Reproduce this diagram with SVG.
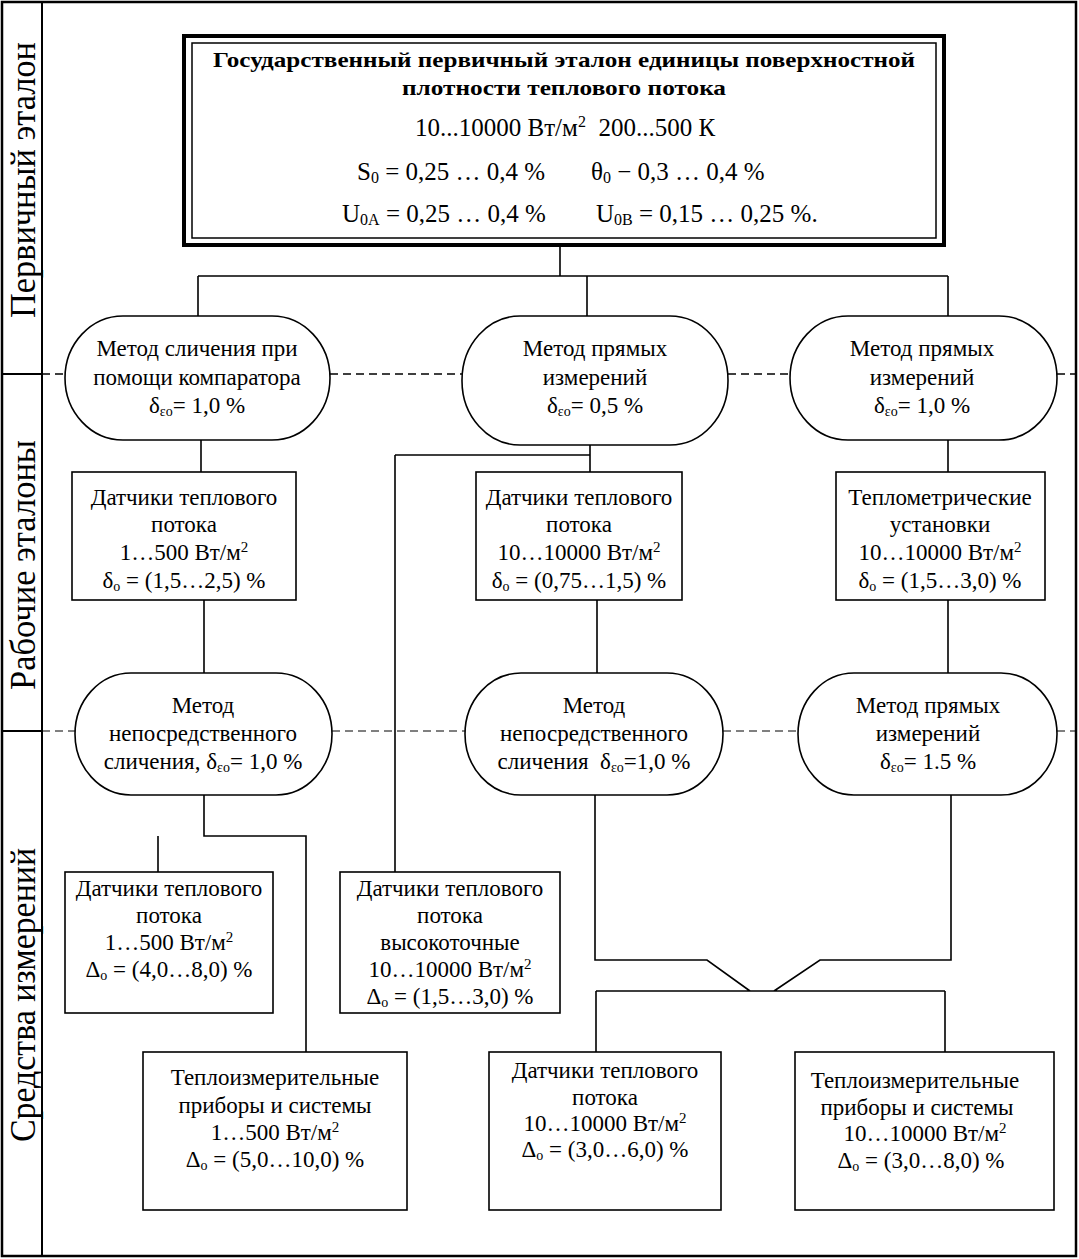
<svg xmlns="http://www.w3.org/2000/svg" width="1079" height="1259" viewBox="0 0 1079 1259">
<style>
text{font-family:"Liberation Serif","Times New Roman",serif;font-size:23px;fill:#000}
.c{text-anchor:middle}
.b{font-weight:bold;font-size:22px}
.t{font-size:25px}
.side{font-size:35px}
.box{fill:#fff;stroke:#000;stroke-width:1.6}
.ov{fill:#fff;stroke:#000;stroke-width:1.6}
.ln{fill:none;stroke:#000;stroke-width:1.6}
.d1{fill:none;stroke:#000;stroke-width:1.5;stroke-dasharray:8 5}
.d2{fill:none;stroke:#000;stroke-width:1;stroke-dasharray:8 5}
.sub{font-size:14px}
.sup{font-size:15px}
.tsub{font-size:16px}
</style>
<rect x="0" y="0" width="1079" height="1259" fill="#fff"/>
<g id="frame">
<rect x="2" y="2" width="1074" height="1254" fill="none" stroke="#000" stroke-width="2.5"/>
<line x1="42" y1="2" x2="42" y2="1256" stroke="#000" stroke-width="2"/>
<line x1="2" y1="374" x2="42" y2="374" stroke="#000" stroke-width="2"/>
<line x1="2" y1="731" x2="42" y2="731" stroke="#000" stroke-width="2"/>
<text class="side c" transform="translate(35,180) rotate(-90)" textLength="276" lengthAdjust="spacingAndGlyphs">Первичный эталон</text>
<text class="side c" transform="translate(35,565) rotate(-90)" textLength="250" lengthAdjust="spacingAndGlyphs">Рабочие эталоны</text>
<text class="side c" transform="translate(35,995) rotate(-90)" textLength="294" lengthAdjust="spacingAndGlyphs">Средства измерений</text>
</g>
<g id="levels">
<path class="d1" d="M42 374H65M330 374H462M728 374H790M1057 374H1076"/>
<path class="d2" d="M42 731H75M332 731H465M723 731H798M1057 731H1076"/>
</g>
<g id="connectors">
<path class="ln" d="M560 246V276M198 276H948M198 276V316M587 276V316M948 276V316"/>
<path class="ln" d="M201 440V472M590 445V472M395 455H590M395 455V872M948 440V472"/>
<path class="ln" d="M204 600V673M597 600V673M948 600V673"/>
<path class="ln" d="M204 795V836H306V1052M158 836V872"/>
<path class="ln" d="M595 795V960H707L750 991M951 795V960H820L774 991M596 991H945M596 991V1052M945 991V1052"/>
</g>
<g id="primary">
<rect x="184" y="36" width="760" height="209" fill="#fff" stroke="#000" stroke-width="4"/>
<rect x="192" y="43" width="744" height="195" fill="none" stroke="#000" stroke-width="1.5"/>
<text class="c b" x="564" y="67" textLength="702" lengthAdjust="spacingAndGlyphs">Государственный первичный эталон единицы поверхностной</text>
<text class="c b" x="564" y="95" textLength="324" lengthAdjust="spacingAndGlyphs">плотности теплового потока</text>
<text class="t" x="415" y="136">10...10000 Вт/м<tspan class="tsub" dy="-9">2</tspan><tspan dy="9">&#160; 200...500 К</tspan></text>
<text class="t" x="357" y="180">S<tspan class="tsub" dy="3">0</tspan><tspan dy="-3"> = 0,25 … 0,4 %</tspan></text>
<text class="t" x="591" y="180">θ<tspan class="tsub" dy="3">0</tspan><tspan dy="-3"> − 0,3 … 0,4 %</tspan></text>
<text class="t" x="342" y="222">U<tspan class="tsub" dy="3">0A</tspan><tspan dy="-3"> = 0,25 … 0,4 %</tspan></text>
<text class="t" x="596" y="222">U<tspan class="tsub" dy="3">0B</tspan><tspan dy="-3"> = 0,15 … 0,25 %.</tspan></text>
</g>
<g id="m1">
<rect class="ov" x="65" y="316" width="265" height="124" rx="58" ry="62"/>
<text class="c" x="197" y="356">Метод сличения при</text>
<text class="c" x="197" y="385">помощи компаратора</text>
<text class="c" x="197" y="413">δ<tspan class="sub" dy="3">εо</tspan><tspan dy="-3">= 1,0 %</tspan></text>
</g>
<g id="m2">
<rect class="ov" x="462" y="316" width="266" height="129" rx="58" ry="64"/>
<text class="c" x="595" y="356">Метод прямых</text>
<text class="c" x="595" y="385">измерений</text>
<text class="c" x="595" y="413">δ<tspan class="sub" dy="3">εо</tspan><tspan dy="-3">= 0,5 %</tspan></text>
</g>
<g id="m3">
<rect class="ov" x="790" y="316" width="267" height="124" rx="58" ry="62"/>
<text class="c" x="922" y="356">Метод прямых</text>
<text class="c" x="922" y="385">измерений</text>
<text class="c" x="922" y="413">δ<tspan class="sub" dy="3">εо</tspan><tspan dy="-3">= 1,0 %</tspan></text>
</g>
<g id="w1">
<rect class="box" x="72" y="472" width="224" height="128"/>
<text class="c" x="184" y="505">Датчики теплового</text>
<text class="c" x="184" y="532">потока</text>
<text class="c" x="184" y="560">1…500 Вт/м<tspan class="sup" dy="-8">2</tspan></text>
<text class="c" x="184" y="588">δ<tspan class="sub" dy="3">о</tspan><tspan dy="-3"> = (1,5…2,5) %</tspan></text>
</g>
<g id="w2">
<rect class="box" x="476" y="472" width="206" height="128"/>
<text class="c" x="579" y="505">Датчики теплового</text>
<text class="c" x="579" y="532">потока</text>
<text class="c" x="579" y="560">10…10000 Вт/м<tspan class="sup" dy="-8">2</tspan></text>
<text class="c" x="579" y="588">δ<tspan class="sub" dy="3">о</tspan><tspan dy="-3"> = (0,75…1,5) %</tspan></text>
</g>
<g id="w3">
<rect class="box" x="836" y="472" width="209" height="128"/>
<text class="c" x="940" y="505">Теплометрические</text>
<text class="c" x="940" y="532">установки</text>
<text class="c" x="940" y="560">10…10000 Вт/м<tspan class="sup" dy="-8">2</tspan></text>
<text class="c" x="940" y="588">δ<tspan class="sub" dy="3">о</tspan><tspan dy="-3"> = (1,5…3,0) %</tspan></text>
</g>
<g id="m4">
<rect class="ov" x="75" y="673" width="257" height="122" rx="56" ry="61"/>
<text class="c" x="203" y="713">Метод</text>
<text class="c" x="203" y="741">непосредственного</text>
<text class="c" x="203" y="769">сличения, δ<tspan class="sub" dy="3">εо</tspan><tspan dy="-3">= 1,0 %</tspan></text>
</g>
<g id="m5">
<rect class="ov" x="465" y="673" width="258" height="122" rx="56" ry="61"/>
<text class="c" x="594" y="713">Метод</text>
<text class="c" x="594" y="741">непосредственного</text>
<text class="c" x="594" y="769">сличения&#160; δ<tspan class="sub" dy="3">εо</tspan><tspan dy="-3">=1,0 %</tspan></text>
</g>
<g id="m6">
<rect class="ov" x="798" y="673" width="259" height="122" rx="56" ry="61"/>
<text class="c" x="928" y="713">Метод прямых</text>
<text class="c" x="928" y="741">измерений</text>
<text class="c" x="928" y="769">δ<tspan class="sub" dy="3">εо</tspan><tspan dy="-3">= 1.5 %</tspan></text>
</g>
<g id="s1">
<rect class="box" x="65" y="872" width="208" height="141"/>
<text class="c" x="169" y="896">Датчики теплового</text>
<text class="c" x="169" y="923">потока</text>
<text class="c" x="169" y="950">1…500 Вт/м<tspan class="sup" dy="-8">2</tspan></text>
<text class="c" x="169" y="977">Δ<tspan class="sub" dy="3">о</tspan><tspan dy="-3"> = (4,0…8,0) %</tspan></text>
</g>
<g id="s2">
<rect class="box" x="340" y="872" width="220" height="141"/>
<text class="c" x="450" y="896">Датчики теплового</text>
<text class="c" x="450" y="923">потока</text>
<text class="c" x="450" y="950">высокоточные</text>
<text class="c" x="450" y="977">10…10000 Вт/м<tspan class="sup" dy="-8">2</tspan></text>
<text class="c" x="450" y="1004">Δ<tspan class="sub" dy="3">о</tspan><tspan dy="-3"> = (1,5…3,0) %</tspan></text>
</g>
<g id="s3">
<rect class="box" x="143" y="1052" width="264" height="158"/>
<text class="c" x="275" y="1085">Теплоизмерительные</text>
<text class="c" x="275" y="1113">приборы и системы</text>
<text class="c" x="275" y="1140">1…500 Вт/м<tspan class="sup" dy="-8">2</tspan></text>
<text class="c" x="275" y="1167">Δ<tspan class="sub" dy="3">о</tspan><tspan dy="-3"> = (5,0…10,0) %</tspan></text>
</g>
<g id="s4">
<rect class="box" x="489" y="1052" width="232" height="158"/>
<text class="c" x="605" y="1078">Датчики теплового</text>
<text class="c" x="605" y="1105">потока</text>
<text class="c" x="605" y="1131">10…10000 Вт/м<tspan class="sup" dy="-8">2</tspan></text>
<text class="c" x="605" y="1157">Δ<tspan class="sub" dy="3">о</tspan><tspan dy="-3"> = (3,0…6,0) %</tspan></text>
</g>
<g id="s5">
<rect class="box" x="795" y="1052" width="259" height="158"/>
<text class="c" x="915" y="1088">Теплоизмерительные</text>
<text class="c" x="917" y="1115">приборы и системы</text>
<text class="c" x="925" y="1141">10…10000 Вт/м<tspan class="sup" dy="-8">2</tspan></text>
<text class="c" x="921" y="1168">Δ<tspan class="sub" dy="3">о</tspan><tspan dy="-3"> = (3,0…8,0) %</tspan></text>
</g>
</svg>
